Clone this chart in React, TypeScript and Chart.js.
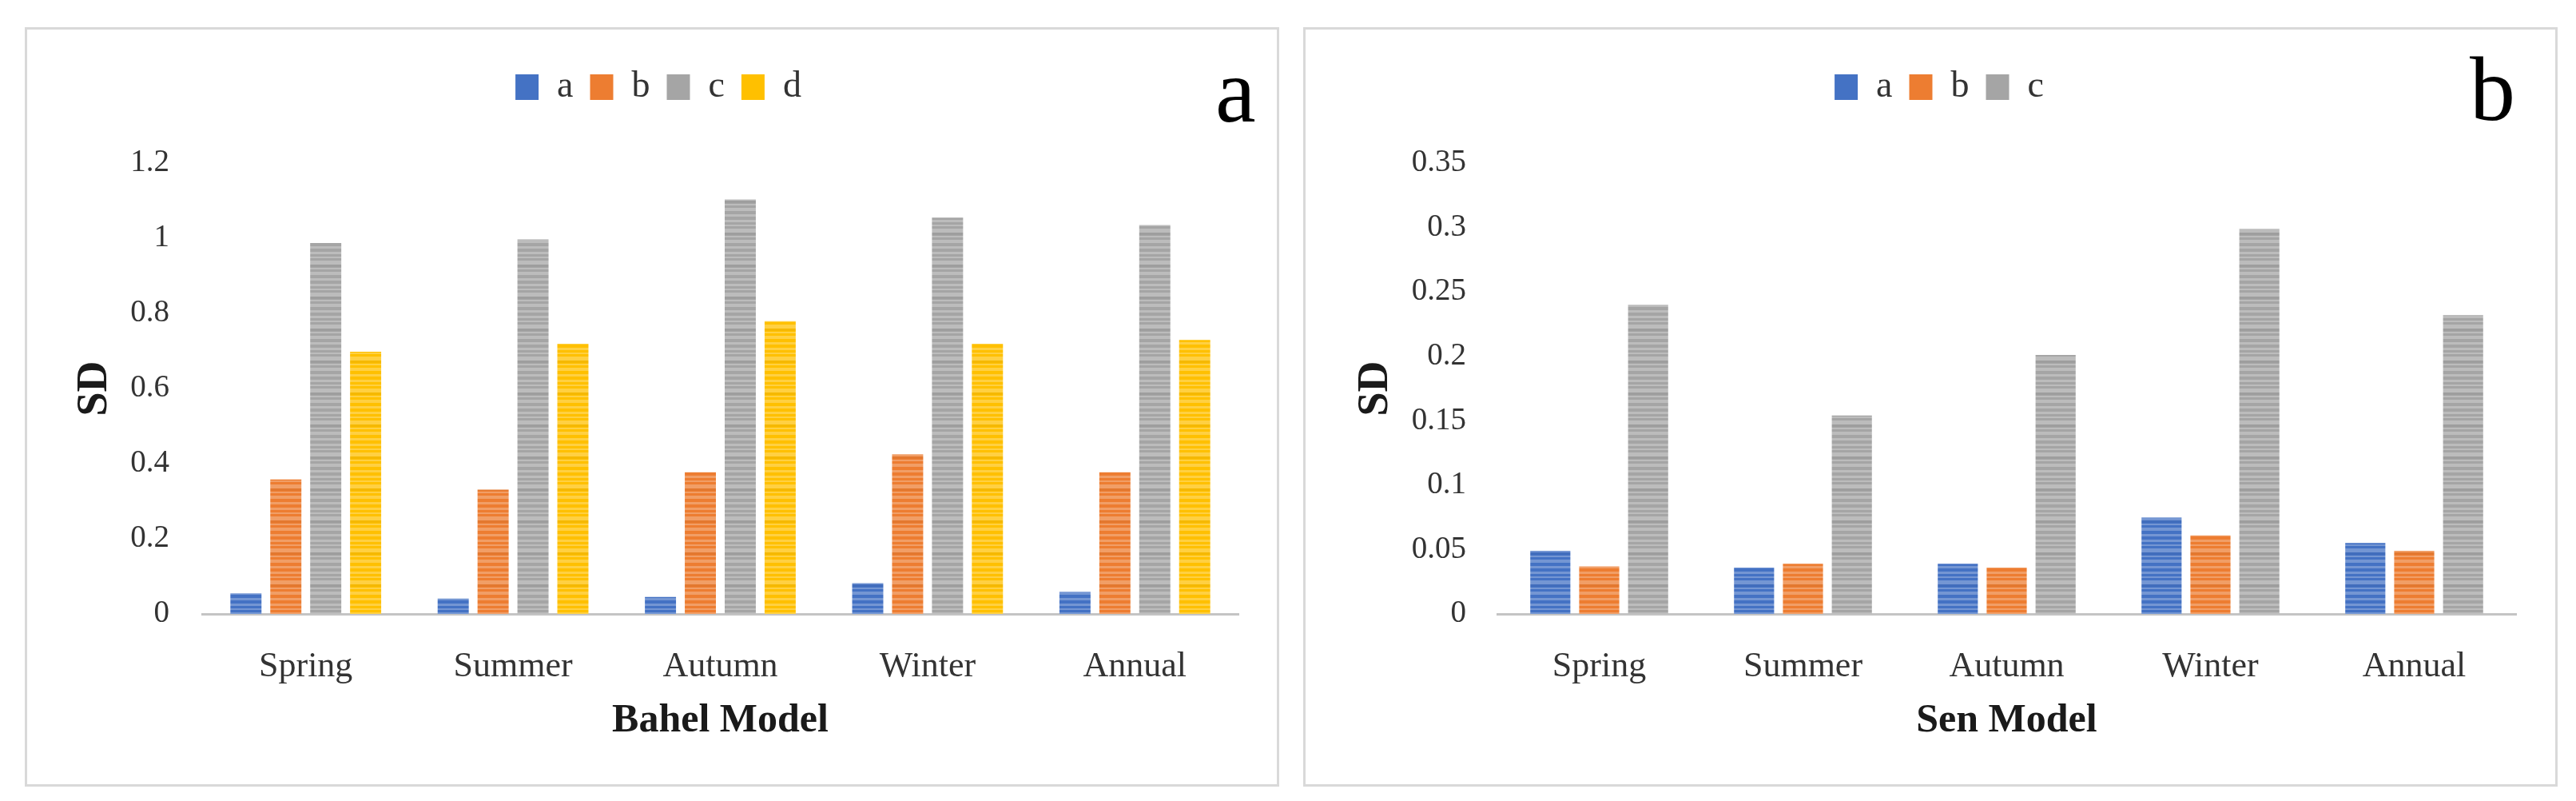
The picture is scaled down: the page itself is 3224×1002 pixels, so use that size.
import React, { useEffect, useRef } from "react";
import { Chart, registerables } from "chart.js";

Chart.register(...registerables);

// ---------- data ----------
const categories = ["Spring", "Summer", "Autumn", "Winter", "Annual"];
const seriesNamesBahel = ["a", "b", "c", "d"];
const seriesNamesSen = ["a", "b", "c"];

const bahelA = [0.055, 0.041, 0.045, 0.082, 0.059];
const bahelB = [0.358, 0.331, 0.377, 0.425, 0.377];
const bahelC = [0.987, 0.997, 1.103, 1.055, 1.035];
const bahelD = [0.698, 0.719, 0.779, 0.719, 0.729];

const senA = [0.049, 0.036, 0.039, 0.075, 0.055];
const senB = [0.037, 0.039, 0.036, 0.061, 0.049];
const senC = [0.24, 0.154, 0.201, 0.299, 0.232];

const bahelYTicks = [0, 0.2, 0.4, 0.6, 0.8, 1, 1.2];
const senYTicks = [0, 0.05, 0.1, 0.15, 0.2, 0.25, 0.3, 0.35];

const bahelTitle = "Bahel Model";
const senTitle = "Sen Model";
const yTitle = "SD";

// ---------- style ----------
const SERIF = '"Liberation Serif", "Times New Roman", serif';
const COLORS = ["#4472C4", "#ED7D31", "#A5A5A5", "#FFC000"];
const TICK_COLOR = "#333333";
const TITLE_COLOR = "#1a1a1a";

function stripes(color: string): CanvasPattern | string {
  const c = document.createElement("canvas");
  c.width = 8;
  c.height = 40;
  const g = c.getContext("2d");
  if (!g) return color;
  g.fillStyle = color;
  g.fillRect(0, 0, 8, 40);
  g.fillStyle = "rgba(255,255,255,0.26)";
  const bands = [
    [1, 3],
    [7, 2],
    [12, 5],
    [21, 2],
    [26, 4],
    [34, 3],
  ];
  for (const [y, h] of bands) g.fillRect(0, y, 8, h);
  g.fillStyle = "rgba(0,0,0,0.04)";
  g.fillRect(0, 17, 8, 3);
  const p = g.createPattern(c, "repeat");
  return p || color;
}

const panelLetter = {
  id: "panelLetter",
  afterDraw(chart: any, _args: any, opts: any) {
    const ctx = chart.ctx;
    ctx.save();
    ctx.font = `${opts.size}px ${SERIF}`;
    ctx.fillStyle = "#000";
    ctx.textBaseline = "alphabetic";
    ctx.textAlign = "left";
    ctx.fillText(opts.text, opts.x, opts.y);
    ctx.restore();
  },
};

interface PanelSpec {
  left: number;
  top: number;
  width: number;
  height: number;
  names: string[];
  series: number[][];
  yTicks: number[];
  xTitle: string;
  letter: string;
  letterX: number;
  letterY: number;
  padLeft: number;
  yWidth: number;
  yTitlePad: number;
  yTickPad: number;
  rightWidth: number;
  catPct: number;
  barPct: number;
}

function ChartPanel({ spec }: { spec: PanelSpec }) {
  const ref = useRef<HTMLCanvasElement | null>(null);
  useEffect(() => {
    if (!ref.current) return;
    const datasets = spec.series.map((vals, i) => ({
      label: spec.names[i],
      data: vals,
      backgroundColor: stripes(COLORS[i]),
      borderWidth: 0,
      categoryPercentage: spec.catPct,
      barPercentage: spec.barPct,
      xAxisID: "x",
      yAxisID: "y",
    }));
    const ticksArr = spec.yTicks;
    const chart = new Chart(ref.current, {
      type: "bar",
      data: { labels: categories, datasets },
      plugins: [panelLetter],
      options: {
        responsive: false,
        animation: false,
        devicePixelRatio: 1,
        layout: { padding: { top: 31, left: spec.padLeft, right: 0, bottom: 0 } },
        plugins: {
          tooltip: { enabled: false },
          legend: {
            display: true,
            position: "top",
            align: "center",
            labels: {
              boxWidth: 29,
              boxHeight: 32,
              padding: 21,
              color: TICK_COLOR,
              font: { family: SERIF, size: 46 },
              generateLabels: (ch: any) =>
                ch.data.datasets.map((d: any, i: number) => ({
                  text: d.label,
                  fillStyle: COLORS[i],
                  strokeStyle: COLORS[i],
                  lineWidth: 0,
                  hidden: false,
                  datasetIndex: i,
                  fontColor: TICK_COLOR,
                })),
            },
          },
          panelLetter: { text: spec.letter, x: spec.letterX, y: spec.letterY, size: 114 },
        } as any,
        scales: {
          x: {
            type: "category",
            position: "bottom",
            grid: { display: false, drawTicks: false },
            border: { display: true, color: "#c4c4c4", width: 3 },
            ticks: { padding: 40, color: TICK_COLOR, font: { family: SERIF, size: 44 } },
            title: {
              display: true,
              text: spec.xTitle,
              color: TITLE_COLOR,
              font: { family: SERIF, size: 50, weight: "bold" },
              padding: { top: 0, bottom: 52 },
            },
            afterFit: (s: any) => {
              s.height = 216;
            },
          },
          y: {
            type: "linear",
            position: "left",
            min: ticksArr[0],
            max: ticksArr[ticksArr.length - 1],
            afterBuildTicks: (s: any) => {
              s.ticks = ticksArr.map((v) => ({ value: v }));
            },
            grid: { display: false, drawTicks: false },
            border: { display: false },
            ticks: {
              padding: spec.yTickPad,
              color: TICK_COLOR,
              font: { family: SERIF, size: 39 },
              callback: (v: any) => String(+Number(v).toFixed(2)),
            },
            title: {
              display: true,
              text: yTitle,
              color: TITLE_COLOR,
              font: { family: SERIF, size: 54, weight: "bold" },
              padding: { top: spec.yTitlePad, bottom: 0 },
            },
            afterFit: (s: any) => {
              s.width = spec.yWidth;
            },
          },
          xTop: {
            type: "linear",
            position: "top",
            display: true,
            grid: { display: false, drawTicks: false },
            border: { display: false },
            ticks: { display: false },
            afterFit: (s: any) => {
              s.height = 62;
            },
          },
          yRight: {
            type: "linear",
            position: "right",
            display: true,
            grid: { display: false, drawTicks: false },
            border: { display: false },
            ticks: { display: false },
            afterFit: (s: any) => {
              s.width = spec.rightWidth;
            },
          },
        } as any,
      },
    });
    return () => chart.destroy();
  }, [spec]);

  return (
    <>
      <canvas
        ref={ref}
        width={spec.width}
        height={spec.height}
        style={{
          position: "absolute",
          left: spec.left,
          top: spec.top,
          width: spec.width,
          height: spec.height,
        }}
      />
      <div
        style={{
          position: "absolute",
          left: spec.left,
          top: spec.top,
          width: spec.width,
          height: spec.height,
          border: "3px solid #d9d9d9",
          boxSizing: "border-box",
          pointerEvents: "none",
        }}
      />
    </>
  );
}

const bahelSpec: PanelSpec = {
  left: 31,
  top: 34,
  width: 1570,
  height: 950,
  names: seriesNamesBahel,
  series: [bahelA, bahelB, bahelC, bahelD],
  yTicks: bahelYTicks,
  xTitle: bahelTitle,
  letter: "a",
  letterX: 1490,
  letterY: 118,
  padLeft: 16,
  yWidth: 206,
  yTitlePad: 40,
  yTickPad: 41,
  rightWidth: 51,
  catPct: 0.77,
  barPct: 0.78,
};

const senSpec: PanelSpec = {
  left: 1631,
  top: 34,
  width: 1570,
  height: 950,
  names: seriesNamesSen,
  series: [senA, senB, senC],
  yTicks: senYTicks,
  xTitle: senTitle,
  letter: "b",
  letterX: 1460,
  letterY: 116,
  padLeft: 22,
  yWidth: 221,
  yTitlePad: 37,
  yTickPad: 39,
  rightWidth: 52,
  catPct: 0.72,
  barPct: 0.82,
};

export default function App() {
  return (
    <div
      style={{
        position: "absolute",
        left: 0,
        top: 0,
        width: 3224,
        height: 1002,
        background: "#ffffff",
        overflow: "hidden",
      }}
    >
      <ChartPanel spec={bahelSpec} />
      <ChartPanel spec={senSpec} />
    </div>
  );
}
